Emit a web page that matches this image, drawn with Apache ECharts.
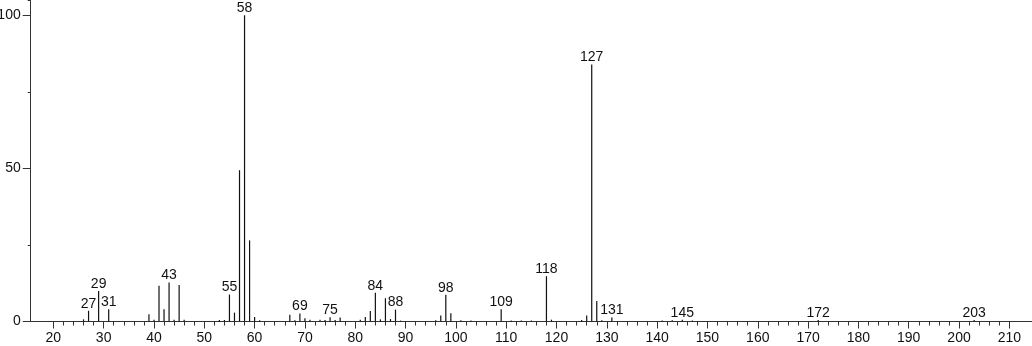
<!DOCTYPE html>
<html>
<head>
<meta charset="utf-8">
<script src="https://cdn.jsdelivr.net/npm/echarts@6/dist/echarts.min.js"></script>
<style>
html,body{margin:0;padding:0;background:#fff;}
#chart{width:1032px;height:346px;}
</style>
</head>
<body>
<div id="chart"></div>
<script>
const masses = [26,27,29,31,39,40,41,42,43,44,45,46,53,54,55,56,57,58,59,60,61,
  67,68,69,70,71,73,74,75,76,77,81,82,83,84,85,86,87,88,89,96,97,98,99,101,103,
  109,111,113,115,118,119,125,126,127,128,129,131,141,143,145,147,172,203];
const intensities = [0.7,3.5,10.0,4.0,2.4,0.6,11.7,4.0,12.7,0.6,11.9,0.6,0.5,0.5,8.8,2.9,49.4,100,26.5,1.5,0.4,
  2.2,0.4,2.6,1.1,0.6,0.6,0.5,1.4,0.5,1.3,0.6,1.5,3.4,9.4,0.7,7.6,0.8,3.9,0.3,0.4,2.0,8.7,2.7,0.4,0.3,
  4.0,0.3,0.3,0.3,14.8,0.6,0.5,2.0,83.9,6.7,0.4,1.3,0.3,0.4,0.6,0.3,0.5,0.5];
const labeledMasses = [27,29,31,43,55,58,69,75,84,88,98,109,118,127,131,145,172,203];
const xMajorTicks = [20,30,40,50,60,70,80,90,100,110,120,130,140,150,160,170,180,190,200,210];
const xMinorTicks = [];
for (let v = 22; v <= 208; v += 2) { if (v % 10 !== 0) xMinorTicks.push(v); }
const yLabelTicks = [0,50,100];

const font = 'Liberation Sans, Arial, sans-serif';
const data = masses.map((m, i) => ({
  value: [m, intensities[i]],
  label: { show: labeledMasses.includes(m) }
}));

const chart = echarts.init(document.getElementById('chart'), null, {renderer: 'canvas'});
chart.setOption({
  animation: false,
  backgroundColor: '#fff',
  grid: { left: 30.7, right: 0, top: 0, bottom: 24.5, containLabel: false, outerBoundsMode: 'none' },
  xAxis: [
    {
      type: 'value', min: 15.5, max: 214.5, position: 'bottom',
      splitLine: { show: false },
      axisLine: { show: true, lineStyle: { color: '#333', width: 1 } },
      axisTick: { show: true, customValues: xMajorTicks, length: 7, lineStyle: { color: '#333' } },
      axisLabel: { customValues: xMajorTicks, margin: 10, fontSize: 14, color: '#111', fontFamily: font }
    },
    {
      type: 'value', min: 15.5, max: 214.5, position: 'bottom',
      splitLine: { show: false },
      axisLine: { show: false },
      axisTick: { show: true, customValues: xMinorTicks, length: 4, lineStyle: { color: '#333' } },
      axisLabel: { show: false }
    }
  ],
  yAxis: [
    {
      type: 'value', min: 0, max: 105, interval: 25, position: 'left',
      splitLine: { show: false },
      axisLine: { show: true, lineStyle: { color: '#333', width: 1 } },
      axisTick: { show: true, length: 3, lineStyle: { color: '#333' } },
      axisLabel: { customValues: yLabelTicks, margin: 10, fontSize: 14, color: '#111', fontFamily: font }
    },
    {
      type: 'value', min: 0, max: 105, position: 'left',
      splitLine: { show: false },
      axisLine: { show: false },
      axisTick: { show: true, customValues: yLabelTicks, length: 8, lineStyle: { color: '#333' } },
      axisLabel: { show: false }
    }
  ],
  series: [{
    type: 'bar',
    xAxisIndex: 0,
    yAxisIndex: 0,
    barWidth: 1.2,
    itemStyle: { color: '#111' },
    label: { position: 'top', distance: 0, fontSize: 14, color: '#111', fontFamily: font,
      formatter: p => String(p.value[0]) },
    data: data
  }]
});
</script>
</body>
</html>
